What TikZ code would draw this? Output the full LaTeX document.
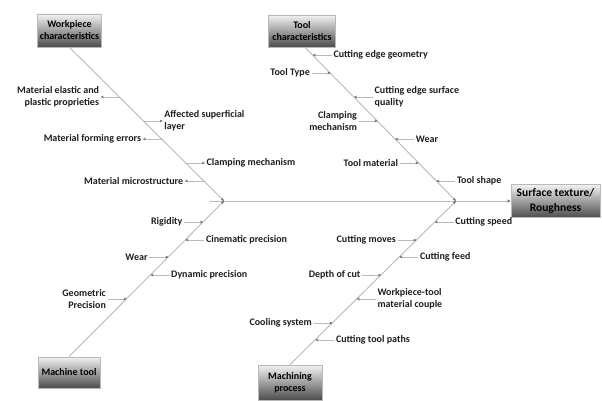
\documentclass[tikz,border=0pt]{standalone}
\usepackage{fontspec}
\setmainfont{Carlito}
\usetikzlibrary{
  arrows.meta,  % 小号 Stealth 箭头
  positioning   % 标签相对分支点定位
}
\definecolor{bonegray}{RGB}{185,185,185}
\definecolor{tipgray}{RGB}{105,105,105}
\definecolor{labelgray}{RGB}{30,30,30}
\tikzset{
  cause box/.style={
    draw=gray!55,
    line width=0.9pt,
    top color=gray!10,
    bottom color=black!70,
    text=black,
    font=\bfseries\fontsize{10}{12}\selectfont,
    align=center,
    inner sep=2pt
  },
  bone/.style={
    draw=bonegray,
    line width=0.9pt,
    -{Stealth[length=3.5pt,width=3pt,color=tipgray]}
  },
  branch/.style={
    draw=bonegray,
    line width=0.7pt,
    -{Stealth[length=3pt,width=2.6pt,color=tipgray]}
  },
  cause label/.style={
    text=labelgray,
    font=\bfseries\fontsize{10}{12}\selectfont,
    inner sep=1.5pt
  }
}

\begin{document}
\begin{tikzpicture}[x=1pt, y=-1pt]
    \useasboundingbox (0,0) rectangle (602,401);

    % --- 四个原因框与结果框 ---
    \node[cause box, minimum width=64pt, minimum height=33pt] (wp) at (69.5,30.5) {Workpiece\\characteristics};
    \node[cause box, minimum width=67pt, minimum height=32pt] (tool) at (302,31) {Tool\\characteristics};
    \node[cause box, minimum width=62pt, minimum height=31pt] (mach) at (69,372.5) {Machine tool};
    \node[cause box, minimum width=64pt, minimum height=35pt] (proc) at (290,382.5) {Machining\\process};
    \node[cause box, minimum width=89pt, minimum height=33pt,
          font=\bfseries\fontsize{11.5}{15}\selectfont] (surf) at (555.5,201) {Surface texture/\\Roughness};

    % --- 主干与斜骨 ---
    \coordinate (spine) at (210,201);
    \coordinate (jl) at (224,201);
    \coordinate (jr) at (456,201);
    \draw[bone] (spine) -- (surf.west);
    \draw[bone] (wp.south) -- (jl);
    \draw[bone] ([xshift=3pt]tool.south) -- (jr);
    \draw[bone] (mach.north) -- (jl);
    \draw[bone] (proc.north) -- (jr);

    % --- Workpiece 分支 (箭头指向文字) ---
    \coordinate (w1) at (119.7,97);
    \coordinate (w2) at (143.7,121);
    \coordinate (w3) at (161.8,139);
    \coordinate (w4) at (185.9,163);
    \coordinate (w5) at (203.9,181);
    \node[cause label, left=19pt of w1, align=right] (w1t) {Material elastic and\\plastic proprieties};
    \node[cause label, right=19pt of w2, align=left] (w2t) {Affected superficial\\layer};
    \node[cause label, left=19pt of w3] (w3t) {Material forming errors};
    \node[cause label, right=19pt of w4] (w4t) {Clamping mechanism};
    \node[cause label, left=19pt of w5] (w5t) {Material microstructure};
    \draw[branch] (w1) -- (w1t);
    \draw[branch] (w2) -- (w2t);
    \draw[branch] (w3) -- (w3t);
    \draw[branch] (w4) -- (w4t);
    \draw[branch] (w5) -- (w5t);

    % --- Tool 分支 ---
    \coordinate (t1) at (312.8,55);
    \coordinate (t2) at (330.5,73);
    \coordinate (t3) at (354.0,97);
    \coordinate (t4) at (377.6,121);
    \coordinate (t5) at (395.2,139);
    \coordinate (t6) at (418.7,163);
    \coordinate (t7) at (436.4,181);
    \node[cause label, right=19pt of t1] (t1t) {Cutting edge geometry};
    \node[cause label, left=19pt of t2] (t2t) {Tool Type};
    \node[cause label, right=19pt of t3, align=left] (t3t) {Cutting edge surface\\quality};
    \node[cause label, left=19pt of t4, align=right] (t4t) {Clamping\\mechanism};
    \node[cause label, right=19pt of t5] (t5t) {Wear};
    \node[cause label, left=19pt of t6] (t6t) {Tool material};
    \node[cause label, right=19pt of t7] (t7t) {Tool shape};
    \draw[branch] (t1t) -- (t1);
    \draw[branch] (t2t) -- (t2);
    \draw[branch] (t3t) -- (t3);
    \draw[branch] (t4t) -- (t4);
    \draw[branch] (t5t) -- (t5);
    \draw[branch] (t6t) -- (t6);
    \draw[branch] (t7t) -- (t7);

    % --- Machine tool 分支 ---
    \coordinate (m1) at (203.1,222);
    \coordinate (m2) at (185.3,240);
    \coordinate (m3) at (168.4,257);
    \coordinate (m4) at (150.5,275);
    \coordinate (m5) at (126.6,299);
    \node[cause label, left=19pt of m1] (m1t) {Rigidity};
    \node[cause label, right=19pt of m2] (m2t) {Cinematic precision};
    \node[cause label, left=19pt of m3] (m3t) {Wear};
    \node[cause label, right=19pt of m4] (m4t) {Dynamic precision};
    \node[cause label, left=19pt of m5, align=right] (m5t) {Geometric\\Precision};
    \draw[branch] (m1t) -- (m1);
    \draw[branch] (m2t) -- (m2);
    \draw[branch] (m3t) -- (m3);
    \draw[branch] (m4t) -- (m4);
    \draw[branch] (m5t) -- (m5);

    % --- Machining process 分支 ---
    \coordinate (p1) at (434.7,222);
    \coordinate (p2) at (416.5,240);
    \coordinate (p3) at (399.3,257);
    \coordinate (p4) at (381.1,275);
    \coordinate (p5) at (356.8,299);
    \coordinate (p6) at (332.5,323);
    \coordinate (p7) at (315.3,340);
    \node[cause label, right=19pt of p1] (p1t) {Cutting speed};
    \node[cause label, left=19pt of p2] (p2t) {Cutting moves};
    \node[cause label, right=19pt of p3] (p3t) {Cutting feed};
    \node[cause label, left=19pt of p4] (p4t) {Depth of cut};
    \node[cause label, right=19pt of p5, align=left] (p5t) {Workpiece-tool\\material couple};
    \node[cause label, left=19pt of p6] (p6t) {Cooling system};
    \node[cause label, right=19pt of p7] (p7t) {Cutting tool paths};
    \draw[branch] (p1t) -- (p1);
    \draw[branch] (p2t) -- (p2);
    \draw[branch] (p3t) -- (p3);
    \draw[branch] (p4t) -- (p4);
    \draw[branch] (p5t) -- (p5);
    \draw[branch] (p6t) -- (p6);
    \draw[branch] (p7t) -- (p7);

\end{tikzpicture}
\end{document}
